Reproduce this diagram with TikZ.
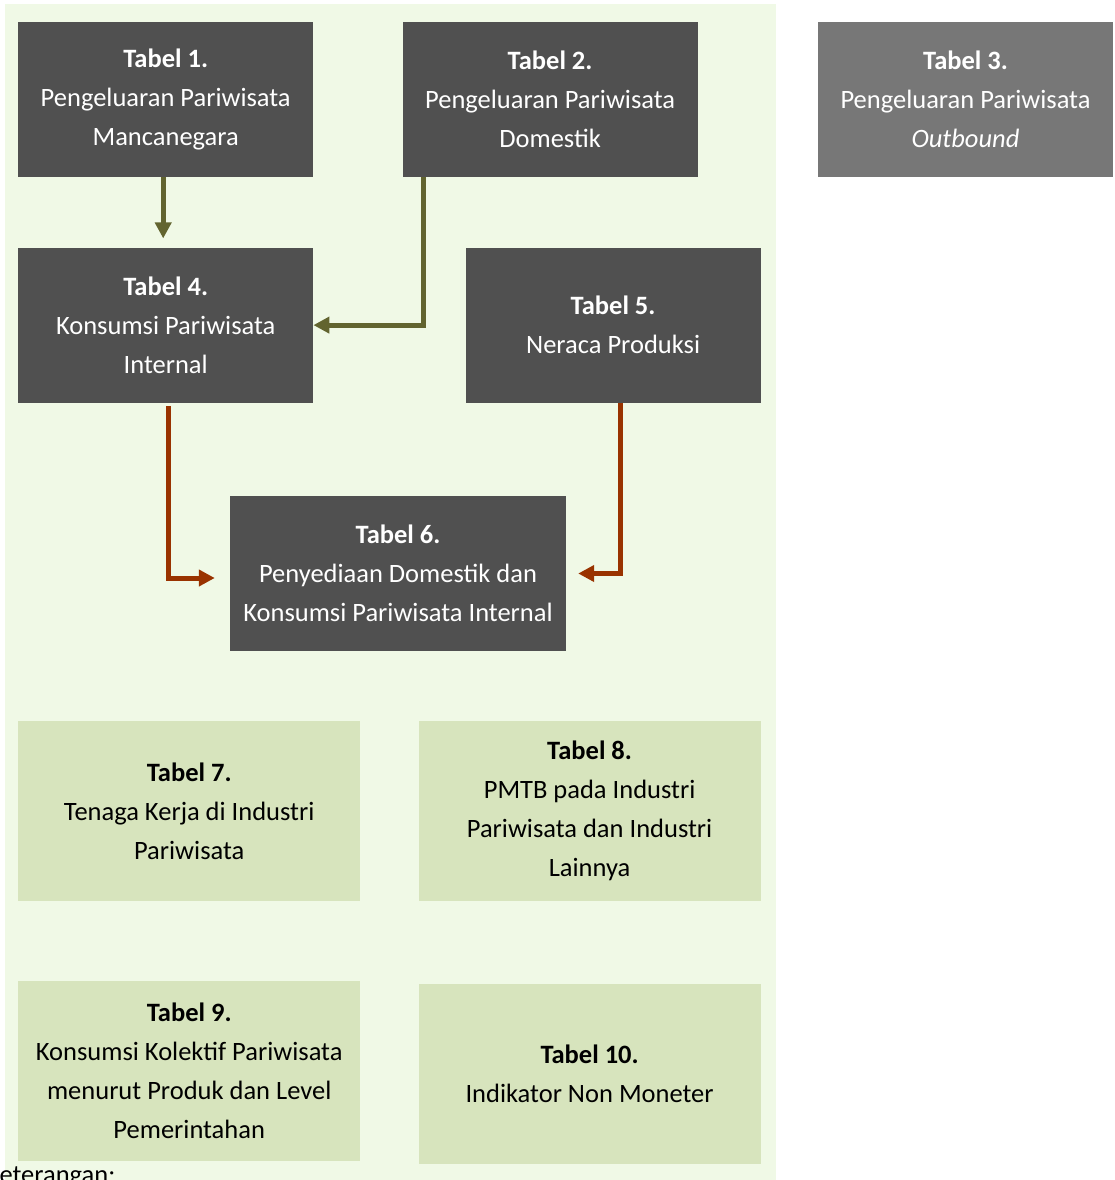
\documentclass[tikz,border=0pt]{standalone}
\usepackage{fontspec}
\setmainfont{Carlito}
\usepackage{xcolor}
\usepackage{tikz}
\usetikzlibrary{positioning,arrows.meta}

\definecolor{bggreen}{HTML}{F0F9E6}
\definecolor{boxdark}{HTML}{505050}
\definecolor{boxgrey}{HTML}{777777}
\definecolor{boxlight}{HTML}{D7E4BD}
\definecolor{arrowolive}{HTML}{62642F}
\definecolor{arrowrust}{HTML}{993300}

\begin{document}
\begin{tikzpicture}[x=1pt, y=1pt,
  tbl/.style={inner sep=0pt, align=center, font=\fontsize{26.5}{39}\selectfont},
  darkbox/.style={tbl, fill=boxdark, text=white, minimum width=295pt, minimum height=155pt},
  outbox/.style={darkbox, fill=boxgrey},
  lightbox/.style={tbl, fill=boxlight, text=black, minimum width=342pt, minimum height=180pt},
  olivearrow/.style={draw=arrowolive, line width=5pt, -{Triangle[width=16pt,length=16pt]}},
  rustarrow/.style={draw=arrowrust, line width=5pt, -{Triangle[width=16pt,length=16pt]}}]
\useasboundingbox (0,0) rectangle (1115,-1180);
\clip (0,0) rectangle (1115,-1180);
\fill[bggreen] (5,-4) rectangle (776,-1190);

% top row
\node[darkbox, anchor=north west] (t1) at (18,-22) {\textbf{Tabel 1.}\\Pengeluaran Pariwisata\\Mancanegara};
\node[darkbox, right=89pt of t1] (t2) {\textbf{Tabel 2.}\\Pengeluaran Pariwisata\\Domestik};
\node[outbox, right=120pt of t2] (t3) {\textbf{Tabel 3.}\\Pengeluaran Pariwisata\\\textit{Outbound}};

% second row
\node[darkbox, below=70pt of t1] (t4) {\textbf{Tabel 4.}\\Konsumsi Pariwisata\\Internal};
\node[darkbox, right=152pt of t4] (t5) {\textbf{Tabel 5.}\\Neraca Produksi};
\node[darkbox, minimum width=336pt] (t6) at (398,-573.5) {\textbf{Tabel 6.}\\Penyediaan Domestik dan\\Konsumsi Pariwisata Internal};

% light boxes
\node[lightbox, anchor=north west] (t7) at (18,-721) {\textbf{Tabel 7.}\\Tenaga Kerja di Industri\\Pariwisata};
\node[lightbox, right=58pt of t7] (t8) {\textbf{Tabel 8.}\\PMTB pada Industri\\Pariwisata dan Industri\\Lainnya};
\node[lightbox, below=79pt of t7] (t9) {\textbf{Tabel 9.}\\Konsumsi Kolektif Pariwisata\\menurut Produk dan Level\\Pemerintahan};
\node[lightbox, right=58pt of t9, yshift=-3pt] (t10) {\textbf{Tabel 10.}\\Indikator Non Moneter};

\node[inner sep=0pt, anchor=north west, font=\fontsize{26.5}{39}\selectfont] (ket) at (-14,-1166) {Keterangan:};

% arrows
\draw[olivearrow, shorten >=9pt] ([xshift=-2.5pt]t1.south) -- ([xshift=-2.5pt]t4.north);
\draw[olivearrow] ([xshift=-126.5pt]t2.south) |- (t4.east);
\draw[rustarrow, shorten >=15pt] ([xshift=2.5pt,yshift=-3pt]t4.south) |- ([yshift=-4.5pt]t6.west);
\draw[rustarrow, shorten >=12pt] ([xshift=7.5pt]t5.south) |- (t6.east);
\end{tikzpicture}
\end{document}
